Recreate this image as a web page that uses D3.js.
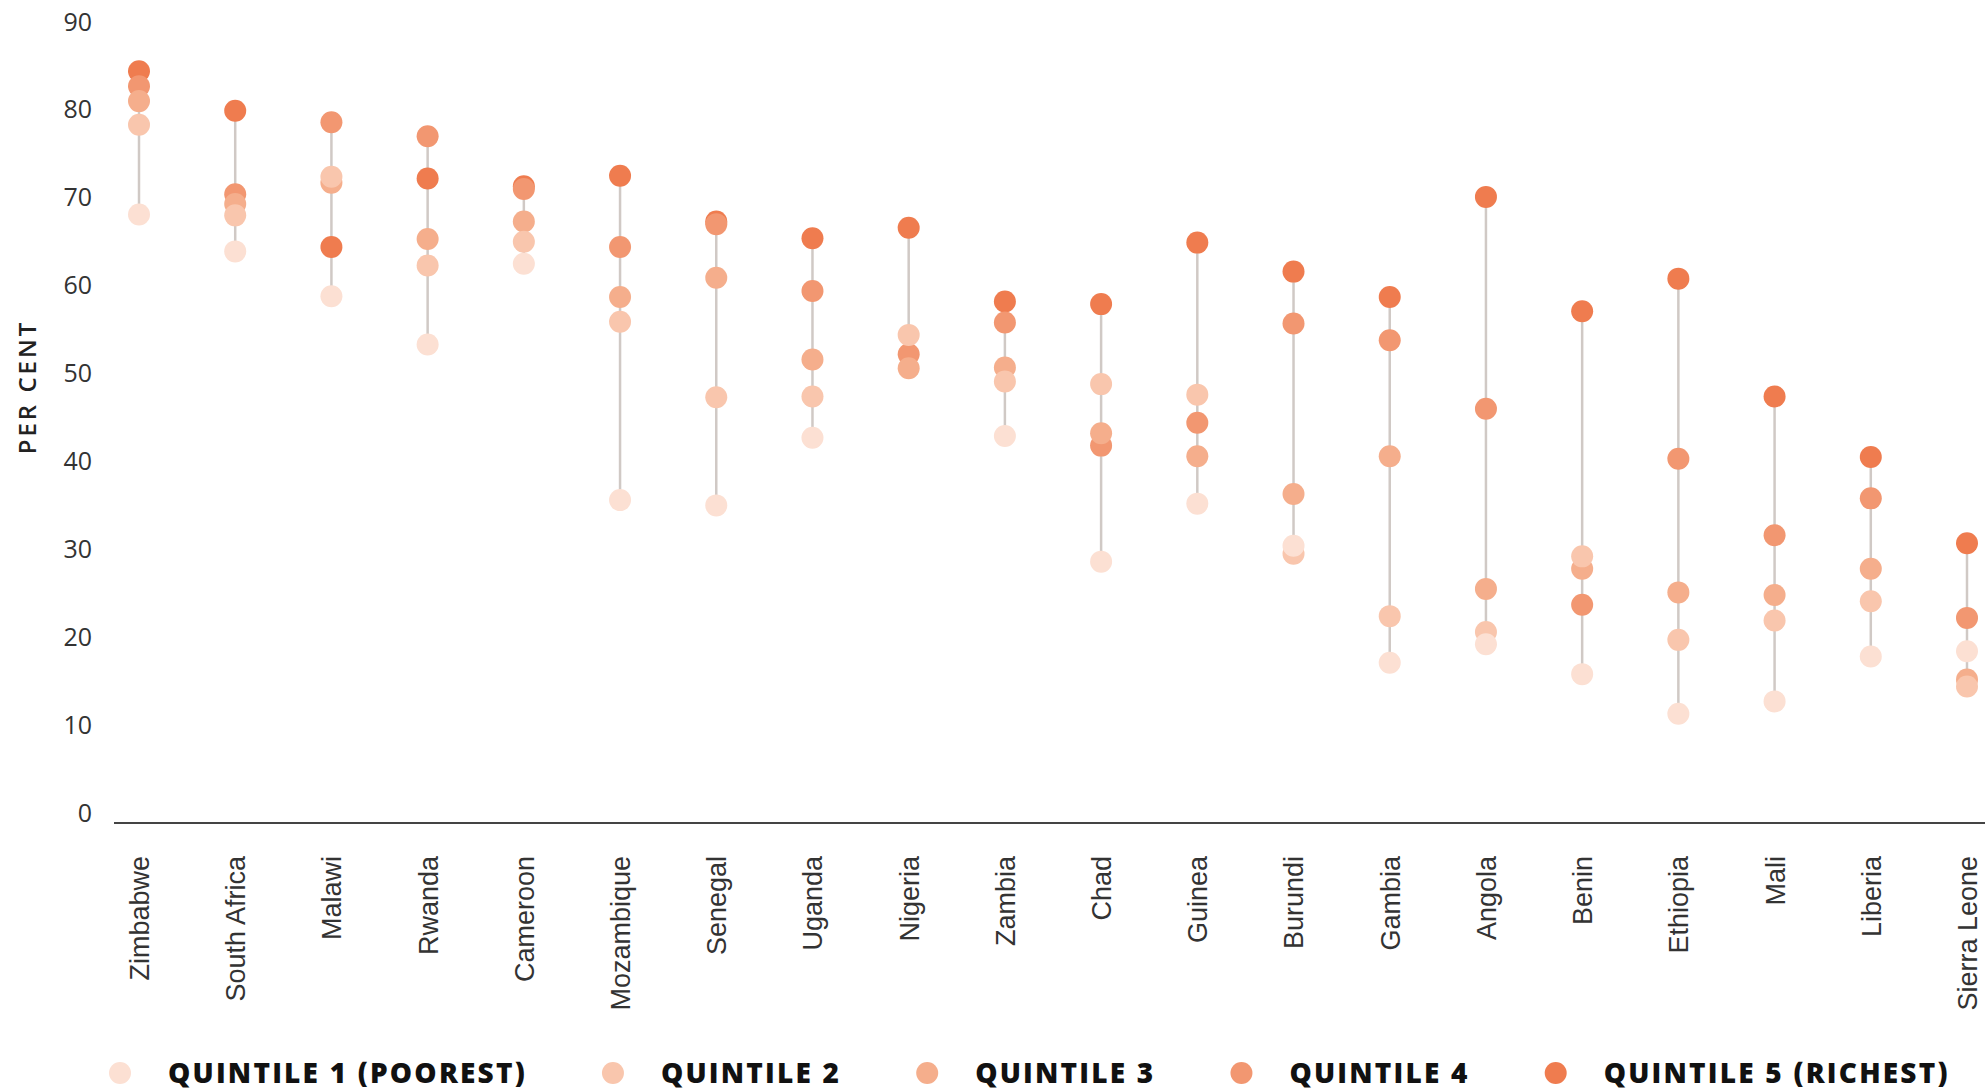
<!DOCTYPE html>
<html>
<head>
<meta charset="utf-8">
<script src="https://cdn.jsdelivr.net/npm/d3@7"></script>
<style>
  body { margin: 0; background: #fff; }
  svg { display: block; }
</style>
</head>
<body>
<div id="viz"></div>
<script>
// countries, in the order shown
var countries = ["Zimbabwe", "South Africa", "Malawi", "Rwanda", "Cameroon", "Mozambique",
  "Senegal", "Uganda", "Nigeria", "Zambia", "Chad", "Guinea", "Burundi", "Gambia",
  "Angola", "Benin", "Ethiopia", "Mali", "Liberia", "Sierra Leone"];

// per cent, one value per country (null = not shown)
var q1 = [68.1, 63.9, 58.8, 53.3, 62.5, 35.6, 35.0, 42.7, null, 42.9, 28.6, 35.2, 30.4, 17.1, 19.2, 15.8, 11.3, 12.7, 17.8, 18.4];
var q2 = [78.3, 68.0, 72.4, 62.3, 65.0, 55.9, 47.3, 47.4, 54.4, 49.1, 48.8, 47.6, 29.5, 22.4, 20.6, 29.2, 19.7, 21.9, 24.1, 14.4];
var q3 = [81.0, 69.3, 71.7, 65.3, 67.3, 58.7, 60.9, 51.6, 50.6, 50.7, 43.2, 40.6, 36.3, 40.6, 25.5, 27.8, 25.1, 24.8, 27.8, 15.2];
var q4 = [82.7, 70.4, 78.6, 77.0, 71.0, 64.4, 67.0, 59.4, 52.2, 55.8, 41.8, 44.4, 55.7, 53.8, 46.0, 23.7, 40.3, 31.6, 35.8, 22.2];
var q5 = [84.4, 79.9, 64.4, 72.2, 71.3, 72.5, 67.3, 65.4, 66.6, 58.2, 57.9, 64.9, 61.6, 58.7, 70.1, 57.1, 60.8, 47.4, 40.5, 30.7];

var legendLabels = ["QUINTILE 1 (POOREST)", "QUINTILE 2", "QUINTILE 3", "QUINTILE 4", "QUINTILE 5 (RICHEST)"];
var colors = ["#fce0d3", "#f9c6ad", "#f5ae8c", "#f29771", "#ef7c4f"];
var yTicks = [0, 10, 20, 30, 40, 50, 60, 70, 80, 90];

var series = [q1, q2, q3, q4, q5];

var width = 1985, height = 1091;

var svg = d3.select("#viz").append("svg")
  .attr("width", width)
  .attr("height", height);

var x = d3.scalePoint().domain(countries).range([139, 1967]);
var y = d3.scaleLinear().domain([0, 90]).range([813, 22]);

// y axis numbers
var yAxis = svg.append("g")
  .attr("transform", "translate(92,0)")
  .call(d3.axisLeft(y).tickValues(yTicks).tickSize(0).tickPadding(0));
yAxis.select(".domain").remove();
yAxis.selectAll("text")
  .attr("font-family", "'Open Sans', sans-serif")
  .attr("font-size", 25)
  .attr("fill", "#333");

// y axis title
svg.append("text")
  .attr("transform", "translate(28,387) rotate(-90)")
  .attr("text-anchor", "middle")
  .attr("dy", "0.35em")
  .attr("font-family", "'Open Sans', sans-serif")
  .attr("font-size", 24)
  .attr("font-weight", 600)
  .attr("letter-spacing", 3)
  .attr("fill", "#222")
  .text("PER CENT");

// baseline
svg.append("line")
  .attr("x1", 114).attr("x2", width)
  .attr("y1", 823).attr("y2", 823)
  .attr("stroke", "#444")
  .attr("stroke-width", 2);

// country labels
var xAxis = svg.append("g")
  .attr("transform", "translate(0,823)")
  .call(d3.axisBottom(x).tickSize(0));
xAxis.select(".domain").remove();
xAxis.selectAll("text")
  .attr("transform", "rotate(-90)")
  .attr("text-anchor", "end")
  .attr("x", -33)
  .attr("y", 0)
  .attr("dy", "0.35em")
  .attr("font-family", "'Liberation Sans', Arial, sans-serif")
  .attr("font-size", 27)
  .attr("fill", "#333");

// connector lines, min to max per country
var ranges = countries.map(function (c, i) {
  var vals = series.map(function (s) { return s[i]; }).filter(function (v) { return v != null; });
  return { name: c, lo: d3.min(vals), hi: d3.max(vals) };
});

svg.append("g")
  .selectAll("line")
  .data(ranges)
  .enter()
  .append("line")
    .attr("x1", function (d) { return x(d.name); })
    .attr("x2", function (d) { return x(d.name); })
    .attr("y1", function (d) { return y(d.lo); })
    .attr("y2", function (d) { return y(d.hi); })
    .attr("stroke", "#d0c9c5")
    .attr("stroke-width", 2.5);

// dots, richest drawn first so poorer ones sit on top
for (var k = series.length - 1; k >= 0; k--) {
  var pts = countries.map(function (c, i) { return { name: c, v: series[k][i] }; })
    .filter(function (d) { return d.v != null; });
  svg.append("g")
    .selectAll("circle")
    .data(pts)
    .enter()
    .append("circle")
      .attr("cx", function (d) { return x(d.name); })
      .attr("cy", function (d) { return y(d.v); })
      .attr("r", 11)
      .attr("fill", colors[k]);
}

// legend
var legend = svg.append("g").attr("transform", "translate(0,1073)");
var lx = 120;
legendLabels.forEach(function (lab, i) {
  legend.append("circle")
    .attr("cx", lx).attr("cy", 0).attr("r", 11)
    .attr("fill", colors[i]);
  var t = legend.append("text")
    .attr("x", lx + 48)
    .attr("y", 0)
    .attr("dy", "0.36em")
    .attr("font-family", "'Open Sans', sans-serif")
    .attr("font-size", 28)
    .attr("font-weight", 800)
    .attr("letter-spacing", 2.2)
    .attr("fill", "#111")
    .text(lab);
  lx = lx + 48 + t.node().getComputedTextLength() + 86;
});
</script>
</body>
</html>
